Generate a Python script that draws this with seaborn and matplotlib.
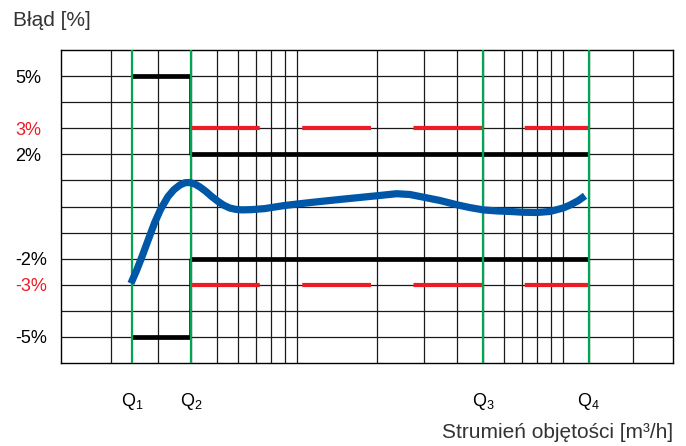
import matplotlib
matplotlib.use("Agg")
import matplotlib.pyplot as plt
import seaborn as sns
import pandas as pd

# flow axis (log), values in arbitrary flow units
grid_x = [0.2, 0.3, 0.4, 0.5, 0.6, 0.7, 0.8, 0.9, 1, 2, 3, 4, 5, 6, 7, 8, 9, 10, 12.5, 18.3]
q_values = [0.24, 0.4, 5, 12.5]
q_labels = ["Q$_1$", "Q$_2$", "Q$_3$", "Q$_4$"]

# error curve [%]
curve_x = [0.238, 0.25, 0.262, 0.276, 0.292, 0.308, 0.328, 0.345, 0.363, 0.38,
           0.396, 0.414, 0.432, 0.455, 0.479, 0.505, 0.531, 0.56, 0.59, 0.621,
           0.677, 0.758, 0.901, 1.12, 1.45, 1.99, 2.37, 2.66, 2.98, 3.45,
           3.98, 4.46, 5.02, 5.65, 6.32, 7.08, 7.96, 8.93, 10.0, 10.6, 11.4, 12.1]
curve_y = [-2.95, -2.45, -1.92, -1.30, -0.63, -0.10, 0.38, 0.64, 0.82, 0.91,
           0.92, 0.86, 0.75, 0.58, 0.38, 0.20, 0.05, -0.06, -0.11, -0.13,
           -0.12, -0.08, 0.04, 0.15, 0.27, 0.41, 0.49, 0.46, 0.36, 0.23,
           0.07, -0.04, -0.13, -0.17, -0.19, -0.22, -0.23, -0.19, -0.06, 0.05, 0.22, 0.41]

# error limits [%]
mpe_low_range = 5      # between Q1 and Q2
mpe_high_range = 2     # between Q2 and Q4
mpe_dashed = 3

ytick_vals = [5, 3, 2, -2, -3, -5]
ytick_labels = ["5%", "3%", "2%", "-2%", "-3%", "-5%"]
ytick_colors = ["black", "#ed1c24", "black", "black", "#ed1c24", "black"]

sns.set_theme(style="white")
plt.rcParams["font.family"] = ["Liberation Sans", "DejaVu Sans"]
plt.rcParams["mathtext.fontset"] = "custom"
plt.rcParams["mathtext.rm"] = "Liberation Sans"
plt.rcParams["mathtext.it"] = "Liberation Sans"

fig = plt.figure(figsize=(6.86, 4.46), dpi=100)
ax = fig.add_axes([61 / 686, 83 / 446, 612 / 686, 313 / 446])
ax.set_xscale("log")
ax.set_xlim(0.13, 25.9)
ax.set_ylim(-6, 6)

# grid
for gx in grid_x:
    ax.axvline(gx, color="#1a1a1a", lw=0.9, zorder=1)
for gy in range(-5, 6):
    ax.axhline(gy, color="#1a1a1a", lw=0.9, zorder=1)

# limits
q1, q2, q3, q4 = q_values
lw_lim = 3.4
for s in (1, -1):
    ax.plot([q1, q2], [s * mpe_low_range] * 2, color="black", lw=lw_lim,
            solid_capstyle="butt", zorder=3)
    ax.plot([q2, q4], [s * mpe_high_range] * 2, color="black", lw=lw_lim,
            solid_capstyle="butt", zorder=3)
    ax.plot([q2 * 0.99, q2 * 0.99], [s * mpe_low_range, s * mpe_high_range],
            color="black", lw=1.8, zorder=3)
    ax.plot([q2, q4], [s * mpe_dashed] * 2, color="#ed1c24", lw=3.0,
            dashes=(16.5, 10.2), solid_capstyle="butt", dash_capstyle="butt", zorder=3)

# Q lines
for qv in q_values:
    ax.axvline(qv, color="#00a651", lw=1.6, zorder=4)

# error curve
df = pd.DataFrame({"flow": curve_x, "error": curve_y})
sns.lineplot(data=df, x="flow", y="error", sort=False, color="#0057a8", lw=5.2,
             solid_joinstyle="round", solid_capstyle="butt", ax=ax, zorder=5)
ax.set_xlabel("")
ax.set_ylabel("")

for sp in ax.spines.values():
    sp.set_color("black")
    sp.set_linewidth(1.0)

ax.set_xticks(q_values)
ax.set_xticks([], minor=True)
ax.set_xticklabels(q_labels, fontsize=13, color="black")
ax.tick_params(axis="x", length=0, pad=20)

ax.set_yticks(ytick_vals)
ax.set_yticklabels(ytick_labels, fontsize=13)
ax.tick_params(axis="y", length=0, pad=33)
for lbl, c in zip(ax.get_yticklabels(), ytick_colors):
    lbl.set_color(c)
    lbl.set_horizontalalignment("left")

fig.text(13 / 686, 1 - 26 / 446, "Błąd [%]", fontsize=15, color="#333333",
         ha="left", va="baseline")
fig.text(673 / 686, 1 - 438 / 446, "Strumień objętości [m³/h]", fontsize=15,
         color="#333333", ha="right", va="baseline")

fig.savefig("out.png", dpi=100)
